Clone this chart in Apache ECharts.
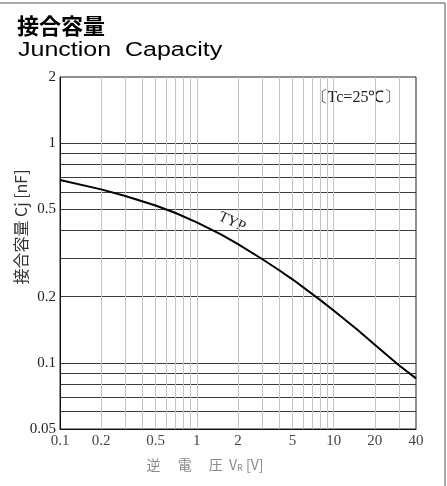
<!DOCTYPE html>
<html>
<head>
<meta charset="utf-8">
<script src="https://cdn.jsdelivr.net/npm/echarts@6/dist/echarts.min.js"></script>
<style>
  html, body { margin: 0; padding: 0; background: #fff; }
  #chart { width: 447px; height: 486px; }
</style>
</head>
<body>
<div id="chart"></div>
<script>
// reverse voltage [V] and junction capacity [nF]
const voltage = [0.1, 0.2, 0.3, 0.5, 0.7, 1, 1.5, 2, 3, 4, 5, 8, 10, 15, 20, 30, 40];
const capacity = [0.68, 0.616, 0.575, 0.52, 0.481, 0.436, 0.384, 0.347, 0.297, 0.264, 0.24, 0.193, 0.173, 0.141, 0.121, 0.0975, 0.085];

// tick labels and grid lines
const xLabels = [0.1, 0.2, 0.5, 1, 2, 5, 10, 20, 40];
const xGrid = [0.2, 0.3, 0.4, 0.5, 0.6, 0.7, 0.8, 0.9, 1, 2, 3, 4, 5, 6, 7, 8, 9, 10, 20, 30];
const yLabels = [0.05, 0.1, 0.2, 0.5, 1, 2];
const yGrid = [0.06, 0.07, 0.08, 0.09, 0.1, 0.2, 0.3, 0.4, 0.5, 0.6, 0.7, 0.8, 0.9, 1];

const chart = echarts.init(document.getElementById('chart'));

const serif = 'Liberation Serif';
const cjk = 'Noto Sans CJK JP';

const option = {
    animation: false,
    backgroundColor: '#fff',
    grid: {
        left: 60,
        right: 31,
        top: 77,
        bottom: 57,
        show: true,
        borderColor: '#222',
        borderWidth: 1
    },
    xAxis: {
        type: 'log',
        min: 0.1,
        max: 40,
        axisLine: { show: true, lineStyle: { color: '#111', width: 1 } },
        axisTick: { show: false, customValues: xGrid },
        minorTick: { show: false },
        axisLabel: {
            customValues: xLabels,
            color: '#444',
            fontFamily: serif,
            fontSize: 15,
            margin: 5,
            formatter: v => String(+v.toPrecision(3))
        },
        splitLine: { show: true, lineStyle: { color: '#c4c4c4', width: 1 } }
    },
    yAxis: {
        type: 'log',
        min: 0.05,
        max: 2,
        axisLine: { show: true, lineStyle: { color: '#111', width: 1 } },
        axisTick: { show: false, customValues: yGrid },
        minorTick: { show: false },
        axisLabel: {
            customValues: yLabels,
            color: '#222',
            fontFamily: serif,
            fontSize: 15,
            margin: 4,
            formatter: v => String(+v.toPrecision(3))
        },
        splitLine: { show: true, lineStyle: { color: '#3a3a3a', width: 1 } }
    },
    series: [
        {
            name: 'TYP',
            type: 'line',
            data: voltage.map((v, i) => [v, capacity[i]]),
            smooth: false,
            showSymbol: false,
            lineStyle: { color: '#000', width: 2, join: 'round' }
        }
    ],
    graphic: [
        // outer frame of the scanned sheet
        {
            type: 'polyline',
            shape: { points: [[0, 3], [445, 3], [445, 486]] },
            style: { stroke: '#555', lineWidth: 1, fill: null }
        },
        {
            type: 'text',
            left: 17,
            top: 15,
            style: {
                text: '接合容量',
                fontFamily: cjk,
                fontWeight: 'bold',
                fontSize: 22,
                fill: '#000'
            }
        },
        {
            type: 'text',
            x: 18,
            y: 50,
            scaleX: 1.25,
            style: {
                text: 'Junction  Capacity',
                fontFamily: 'Liberation Sans',
                fontSize: 20,
                fill: '#000',
                verticalAlign: 'middle'
            }
        },
        {
            type: 'text',
            x: 21,
            y: 227,
            rotation: Math.PI / 2,
            style: {
                text: '接合容量 Cj [nF]',
                fontFamily: cjk,
                fontSize: 16,
                fill: '#333',
                align: 'center',
                verticalAlign: 'middle'
            }
        },
        {
            type: 'text',
            x: 205,
            y: 465,
            style: {
                text: '逆\u3000 電\u3000 圧  V{s|R} [V]',
                fontFamily: cjk,
                fontSize: 14,
                fill: '#8a8a8a',
                align: 'center',
                verticalAlign: 'middle',
                rich: { s: { fontFamily: cjk, fontSize: 9, fill: '#8a8a8a', padding: [6, 0, 0, 0] } }
            }
        },
        {
            type: 'text',
            x: 356,
            y: 98,
            style: {
                text: '〔Tc=25℃〕',
                fontFamily: serif,
                fontSize: 16,
                fill: '#222',
                align: 'center',
                verticalAlign: 'middle'
            }
        },
        {
            type: 'text',
            x: 232,
            y: 222,
            rotation: -0.45,
            style: {
                text: 'TYP',
                fontFamily: serif,
                fontSize: 15,
                fill: '#222',
                align: 'center',
                verticalAlign: 'middle'
            }
        }
    ]
};

chart.setOption(option);
</script>
</body>
</html>
